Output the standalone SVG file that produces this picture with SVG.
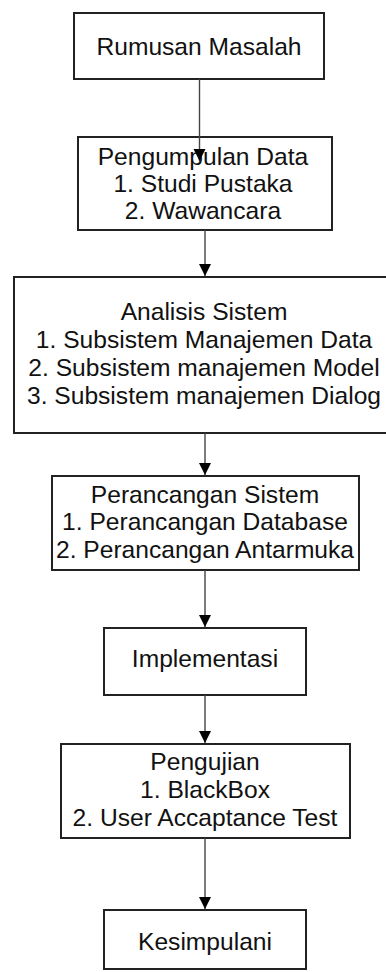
<svg xmlns="http://www.w3.org/2000/svg" width="386" height="972" viewBox="0 0 386 972">
<style>
.box{fill:#fff;stroke:#222;stroke-width:2}
.t{font-family:"Liberation Sans",Arial,sans-serif;font-size:24.6px;fill:#111;text-anchor:middle}
.c{stroke:#444;stroke-width:1.4;fill:none}
</style>
<defs>
<marker id="ah" markerWidth="12" markerHeight="18" refX="12" refY="9" orient="auto" markerUnits="userSpaceOnUse">
<path d="M0,3 L12,9 L0,15 Z" fill="#000"/>
</marker>
</defs>
<rect width="386" height="972" fill="#fff"/>
<g id="n1"><rect class="box" x="74" y="13" width="250" height="66"/><text class="t" x="199" y="55">Rumusan Masalah</text></g>
<g id="n2"><rect class="box" x="78" y="137" width="254" height="93"/><text class="t" x="203" y="165">Pengumpulan Data</text><text class="t" x="203" y="192">1. Studi Pustaka</text><text class="t" x="203" y="219">2. Wawancara</text></g>
<g id="n3"><rect class="box" x="14" y="277" width="382" height="156"/><text class="t" x="204" y="320">Analisis Sistem</text><text class="t" x="204" y="348">1. Subsistem Manajemen Data</text><text class="t" x="204" y="376">2. Subsistem manajemen Model</text><text class="t" x="204" y="404">3. Subsistem manajemen Dialog</text></g>
<g id="n4"><rect class="box" x="52" y="476" width="307" height="94"/><text class="t" x="205" y="503">Perancangan Sistem</text><text class="t" x="205" y="530">1. Perancangan Database</text><text class="t" x="205" y="558">2. Perancangan Antarmuka</text></g>
<g id="n5"><rect class="box" x="104" y="628" width="202" height="67"/><text class="t" x="205" y="667">Implementasi</text></g>
<g id="n6"><rect class="box" x="61" y="744" width="289" height="94"/><text class="t" x="205" y="770">Pengujian</text><text class="t" x="205" y="798">1. BlackBox</text><text class="t" x="205" y="826">2. User Accaptance Test</text></g>
<g id="n7"><rect class="box" x="104" y="910" width="202" height="59"/><text class="t" x="205" y="950">Kesimpulani</text></g>
<g id="connectors">
<path class="c" d="M199.5,79 V161" marker-end="url(#ah)"/>
<path class="c" d="M205,230 V276" marker-end="url(#ah)"/>
<path class="c" d="M205,433 V475" marker-end="url(#ah)"/>
<path class="c" d="M205,570 V627" marker-end="url(#ah)"/>
<path class="c" d="M205,695 V743" marker-end="url(#ah)"/>
<path class="c" d="M205,838 V909" marker-end="url(#ah)"/>
</g>
</svg>
